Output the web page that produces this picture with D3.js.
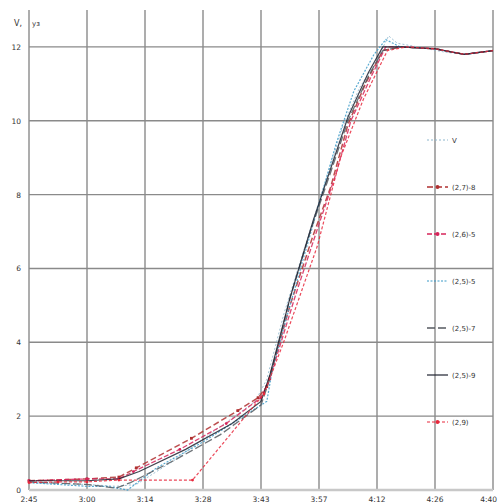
<!DOCTYPE html>
<html>
<head>
<meta charset="utf-8">
<script src="https://cdn.jsdelivr.net/npm/d3@7"></script>
<style>
  html, body { margin: 0; padding: 0; background: #fff; }
  svg { display: block; font-family: "DejaVu Sans", Arial, sans-serif; }
</style>
</head>
<body>
<svg id="chart" width="498" height="504"></svg>
<script>
// x in tick steps (0 = first tick), y = speed
const timeLabels = ['2:45', '3:00', '3:14', '3:28', '3:43', '3:57', '4:12', '4:26', '4:40']
const speedTicks = [0, 2, 4, 6, 8, 10, 12]
const seriesNames = ['V', '(2,7)-8', '(2,6)-5', '(2,5)-5', '(2,5)-7', '(2,5)-9', '(2,9)']

const vData = [[0, 0.2], [1, 0.15], [1.5, 0.1], [1.85, 0.15], [2.5, 0.8], [3.2, 1.6], [3.9, 2.4], [4.1, 3.0], [4.4, 4.8], [4.8, 6.8], [5.1, 8.3], [5.4, 9.8], [5.7, 10.9], [5.95, 11.5], [6.2, 12.3], [6.35, 12.1], [6.7, 12.0], [7.2, 11.85], [7.6, 11.8], [8, 11.9]]
const s278 = [[0, 0.25], [1, 0.3], [1.55, 0.35], [1.85, 0.6], [2.8, 1.4], [3.6, 2.15], [3.95, 2.5], [4.1, 2.8], [4.5, 5.0], [4.9, 6.9], [5.2, 8.2], [5.5, 9.9], [5.8, 11.0], [6.1, 11.9], [6.4, 12.0], [7, 11.95], [7.5, 11.8], [8, 11.9]]
const s265 = [[0, 0.25], [1, 0.3], [1.55, 0.3], [1.8, 0.5], [2.6, 1.1], [3.4, 1.8], [4.0, 2.5], [4.15, 3.0], [4.6, 5.3], [5.0, 7.2], [5.3, 8.6], [5.55, 10.0], [5.9, 11.2], [6.15, 12.0], [6.5, 12.0], [7, 11.95], [7.5, 11.8], [8, 11.9]]
const s255 = [[0, 0.2], [1, 0.1], [1.35, 0.1], [1.7, 0.0], [2.2, 0.6], [3.0, 1.3], [3.7, 2.0], [4.1, 2.4], [4.2, 3.3], [4.5, 5.0], [4.9, 7.2], [5.3, 9.4], [5.6, 10.8], [5.95, 11.8], [6.15, 12.2], [6.4, 12.0], [7, 11.95], [7.5, 11.8], [8, 11.9]]
const s257 = [[0, 0.22], [1, 0.15], [1.5, 0.05], [1.75, 0.2], [2.5, 0.8], [3.3, 1.5], [4.0, 2.3], [4.15, 3.0], [4.5, 5.2], [4.85, 7.0], [5.2, 8.6], [5.5, 10.0], [5.85, 11.2], [6.1, 11.9], [6.4, 12.0], [7, 11.95], [7.5, 11.8], [8, 11.9]]
const s259 = [[0, 0.25], [1, 0.25], [1.55, 0.3], [1.9, 0.5], [2.7, 1.1], [3.5, 1.8], [4.0, 2.4], [4.15, 3.1], [4.5, 5.2], [4.9, 7.3], [5.2, 8.7], [5.5, 10.1], [5.85, 11.3], [6.1, 12.0], [6.4, 12.0], [7, 11.95], [7.5, 11.8], [8, 11.9]]
const s29 = [[0, 0.2], [0.5, 0.22], [1, 0.22], [1.55, 0.27], [2.82, 0.27], [4.05, 2.6], [4.39, 4.0], [4.97, 6.6], [5.37, 9.0], [5.77, 10.6], [6.18, 11.9], [6.5, 12.0], [7, 11.95], [7.5, 11.8], [8, 11.9]]

const seriesData = [vData, s278, s265, s255, s257, s259, s29]
const styles = [
    { color: '#8db6cc', dash: '2,2', width: 1, marker: null },
    { color: '#b03030', dash: '6,3', width: 1.5, marker: 'square' },
    { color: '#d6245a', dash: '5,2', width: 1.3, marker: 'circle' },
    { color: '#3a9ac8', dash: '2,1.5', width: 1.2, marker: null },
    { color: '#555a60', dash: '8,3', width: 1.3, marker: null },
    { color: '#1e2230', dash: null, width: 1.2, marker: null },
    { color: '#e8283c', dash: '3,2', width: 1.2, marker: 'circle' }
]

const svg = d3.select('#chart')
const x = d3.scaleLinear().domain([0, 8]).range([29, 493])
const y = d3.scaleLinear().domain([0, 13]).range([490, 10])

// grid
svg.append('g')
    .selectAll('line')
    .data(d3.range(timeLabels.length))
    .join('line')
    .attr('x1', (d) => x(d))
    .attr('x2', (d) => x(d))
    .attr('y1', y(13))
    .attr('y2', y(0))
    .attr('stroke', '#8a8a8a')
    .attr('stroke-width', 1.4)

svg.append('g')
    .selectAll('line')
    .data(speedTicks)
    .join('line')
    .attr('x1', x(0))
    .attr('x2', x(8))
    .attr('y1', (d) => y(d))
    .attr('y2', (d) => y(d))
    .attr('stroke', (d) => d === 0 ? '#c8c8c8' : '#8a8a8a')
    .attr('stroke-width', (d) => d === 0 ? 2.5 : 1.4)

// axis labels
svg.append('g')
    .selectAll('text')
    .data(speedTicks)
    .join('text')
    .attr('x', 21)
    .attr('y', (d) => y(d) + 3)
    .attr('text-anchor', 'end')
    .attr('font-size', 7.5)
    .attr('fill', '#333')
    .text((d) => d)

svg.append('g')
    .selectAll('text')
    .data(timeLabels)
    .join('text')
    .attr('x', (d, i) => i === timeLabels.length - 1 ? 497 : x(i))
    .attr('y', 502)
    .attr('text-anchor', (d, i) => i === timeLabels.length - 1 ? 'end' : 'middle')
    .attr('font-size', 7.5)
    .attr('fill', '#333')
    .text((d) => d)

svg.append('text')
    .attr('x', 14)
    .attr('y', 26)
    .attr('font-size', 8)
    .attr('fill', '#333')
    .text('V,')
svg.append('text')
    .attr('x', 32)
    .attr('y', 26)
    .attr('font-size', 7)
    .attr('fill', '#333')
    .text('уз')

// series
const line = d3.line()
    .x((d) => x(d[0]))
    .y((d) => y(d[1]))

const plot = svg.append('g')
seriesData.forEach((data, i) => {
    const st = styles[i]
    plot.append('path')
        .datum(data)
        .attr('d', line)
        .attr('fill', 'none')
        .attr('stroke', st.color)
        .attr('stroke-width', st.width)
        .attr('stroke-dasharray', st.dash)
        .attr('opacity', 0.85)
    if (st.marker === 'circle') {
        plot.append('g')
            .selectAll('circle')
            .data(data.filter((d) => d[0] < 4.2))
            .join('circle')
            .attr('cx', (d) => x(d[0]))
            .attr('cy', (d) => y(d[1]))
            .attr('r', 1.4)
            .attr('fill', st.color)
    } else if (st.marker === 'square') {
        plot.append('g')
            .selectAll('rect')
            .data(data.filter((d) => d[0] < 4.2))
            .join('rect')
            .attr('x', (d) => x(d[0]) - 1.4)
            .attr('y', (d) => y(d[1]) - 1.4)
            .attr('width', 2.8)
            .attr('height', 2.8)
            .attr('fill', st.color)
    }
})

// legend
const legend = svg.append('g')
    .selectAll('g')
    .data(seriesNames)
    .join('g')
    .attr('transform', (d, i) => `translate(427,${140 + i * 47})`)

legend.append('line')
    .attr('x1', 0)
    .attr('x2', 21)
    .attr('stroke', (d, i) => styles[i].color)
    .attr('stroke-width', (d, i) => styles[i].width)
    .attr('stroke-dasharray', (d, i) => styles[i].dash)

legend.filter((d, i) => styles[i].marker)
    .append('circle')
    .attr('cx', 10.5)
    .attr('r', 2)
    .attr('fill', (d) => styles[seriesNames.indexOf(d)].color)

legend.append('text')
    .attr('x', 25)
    .attr('y', 3)
    .attr('font-size', 7)
    .attr('fill', '#333')
    .text((d) => d)
</script>
</body>
</html>
